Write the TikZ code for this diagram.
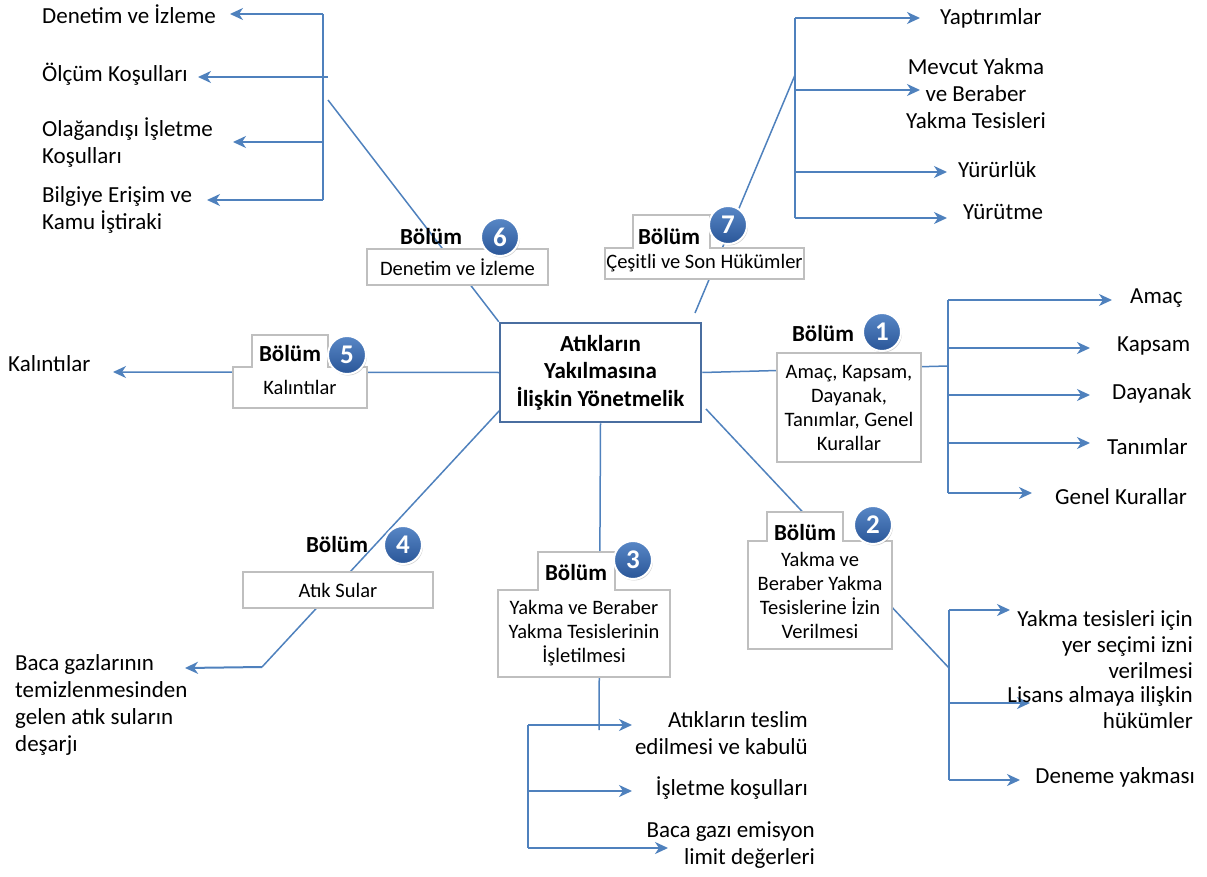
\documentclass[tikz,border=0pt]{standalone}
\usepackage{fontspec}
\setmainfont{Carlito}
\usetikzlibrary{arrows.meta,shadows,backgrounds}

\definecolor{linkblue}{RGB}{79,129,189}
\definecolor{frameblue}{RGB}{74,110,160}
\definecolor{boxgray}{RGB}{191,191,191}
\definecolor{dotlight}{RGB}{88,135,198}
\definecolor{dotdark}{RGB}{42,86,152}

\tikzset{
  spoke/.style={draw=linkblue, line width=1.5pt},
  tree/.style={draw=linkblue, line width=2pt},
  arr/.style={tree, -{Stealth[length=13pt,width=12pt,inset=4pt]}},
  centerbox/.style={draw=frameblue, line width=2.5pt, fill=white, align=center,
    font=\fontsize{23}{27.5}\selectfont\bfseries,
    minimum width=201pt, minimum height=99pt, inner sep=0pt},
  secbox/.style={draw=boxgray, line width=1.2pt, fill=white, align=center,
    font=\fontsize{20.5}{24}\selectfont, inner sep=0pt},
  tabside/.style={draw=boxgray, line width=1.2pt},
  head/.style={font=\fontsize{23}{27}\selectfont\bfseries, inner sep=0pt},
  badge/.style={circle, minimum size=38pt, inner sep=0pt, draw=white, line width=2pt,
    top color=dotlight, bottom color=dotdark, text=white,
    font=\fontsize{27}{27}\selectfont\bfseries,
    drop shadow={shadow xshift=1pt,shadow yshift=-1.5pt,opacity=0.35}},
  leaf/.style={font=\fontsize{23}{27}\selectfont, inner sep=0pt},
}

\begin{document}
\begin{tikzpicture}[x=1pt,y=-1pt]
\useasboundingbox (0,0) rectangle (1207,877);

% ---------- central regulation box ----------
\node[centerbox] (c) at (600.5,372.5) {Atıkların\\Yakılmasına\\İlişkin Yönetmelik};

% ---------- section boxes ----------
\node[secbox, minimum width=199pt, minimum height=31pt] (b7) at (704.5,263.5) {Çeşitli ve Son Hükümler};
\node[secbox, minimum width=181pt, minimum height=36pt] (b6) at (457.5,267) {Denetim ve İzleme};
\node[secbox, minimum width=134pt, minimum height=41pt] (b5) at (300,387.5) {Kalıntılar};
\node[secbox, minimum width=190pt, minimum height=36pt] (b4) at (338,590) {Atık Sular};
\node[secbox, minimum width=172pt, minimum height=87pt] (b3) at (584,633.5) {Yakma ve Beraber\\Yakma Tesislerinin\\İşletilmesi};
\node[secbox, minimum width=144pt, minimum height=108pt] (b2) at (820,595) {Yakma ve\\Beraber Yakma\\Tesislerine İzin\\Verilmesi};
\node[secbox, minimum width=144pt, minimum height=109pt] (b1) at (849,407.5) {Amaç, Kapsam,\\Dayanak,\\Tanımlar, Genel\\Kurallar};

% tabs on top of some section boxes
\fill[white] (633.6,215) rectangle (709.4,249);
\draw[tabside] (633,248) -- (633,215) -- (710,215) -- (710,248);
\fill[white] (252.6,335) rectangle (327.4,368);
\draw[tabside] (252,367) -- (252,335) -- (328,335) -- (328,367);
\fill[white] (538.6,552) rectangle (614.4,591);
\draw[tabside] (538,590) -- (538,552) -- (615,552) -- (615,590);
\fill[white] (767.6,512) rectangle (842.4,542);
\draw[tabside] (767,541) -- (767,512) -- (843,512) -- (843,541);

% headings
\node[head] (h7) at (669,237) {Bölüm};
\node[head] (h6) at (431,237) {Bölüm};
\node[head] (h5) at (290,354) {Bölüm};
\node[head] (h4) at (337,545) {Bölüm};
\node[head] (h3) at (576,573) {Bölüm};
\node[head] (h2) at (805,533) {Bölüm};
\node[head] (h1) at (823,334) {Bölüm};

\node[badge] (n7) at (728,225) {7};
\node[badge] (n6) at (500,237) {6};
\node[badge] (n5) at (347,355) {5};
\node[badge] (n4) at (403,545) {4};
\node[badge] (n3) at (633,560) {3};
\node[badge] (n2) at (873,525) {2};
\node[badge] (n1) at (882,332) {1};

% ---------- topic labels ----------
\node[leaf, anchor=west] (l6a) at (42,14) {Denetim ve İzleme};
\node[leaf, anchor=west] (l6b) at (42,74) {Ölçüm Koşulları};
\node[leaf, anchor=west, align=left] (l6c) at (42,143) {Olağandışı İşletme\\Koşulları};
\node[leaf, anchor=west, align=left] (l6d) at (42,210) {Bilgiye Erişim ve\\Kamu İştiraki};

\node[leaf, anchor=west] (l7a) at (940,18) {Yaptırımlar};
\node[leaf, align=center] (l7b) at (976,94) {Mevcut Yakma\\ve Beraber\\Yakma Tesisleri};
\node[leaf, anchor=west] (l7c) at (958,170) {Yürürlük};
\node[leaf, anchor=west] (l7d) at (963,212) {Yürütme};

\node[leaf, anchor=west] (l1a) at (1130,298) {Amaç};
\node[leaf, anchor=west] (l1b) at (1117,346) {Kapsam};
\node[leaf, anchor=west] (l1c) at (1112,393) {Dayanak};
\node[leaf, anchor=west] (l1d) at (1107,447) {Tanımlar};
\node[leaf, anchor=west] (l1e) at (1055,497) {Genel Kurallar};

\node[leaf, anchor=east, align=right, font=\fontsize{23}{26}\selectfont] (l2a) at (1193,645) {Yakma tesisleri için\\yer seçimi izni\\verilmesi};
\node[leaf, anchor=east, align=right, font=\fontsize{23}{26}\selectfont] (l2b) at (1193,708) {Lisans almaya ilişkin\\hükümler};
\node[leaf, anchor=east] (l2c) at (1195,777) {Deneme yakması};

\node[leaf, anchor=east, align=right] (l3a) at (808,733) {Atıkların teslim\\edilmesi ve kabulü};
\node[leaf, anchor=east] (l3b) at (808,788) {İşletme koşulları};
\node[leaf, anchor=east, align=right] (l3c) at (815,845) {Baca gazı emisyon\\limit değerleri};

\node[leaf, anchor=west, align=left] (l4) at (15,705) {Baca gazlarının\\temizlenmesinden\\gelen atık suların\\deşarjı};
\node[leaf, anchor=west] (l5) at (8,364) {Kalıntılar};

% ---------- junction points and arrow tips ----------
\coordinate (j6) at (328,100);
\coordinate (j7) at (795,75);
\coordinate (g7) at (695,313);
\coordinate (j1) at (948,366);
\coordinate (s2) at (706,409);
\coordinate (j2) at (949,668);
\coordinate (j3) at (599,730);
\coordinate (s4) at (500,410);
\coordinate (j4) at (262,667);

\coordinate (t6a) at (230,14);   \coordinate (t6b) at (198,77);
\coordinate (t6c) at (233,142);  \coordinate (t6d) at (207,200);
\coordinate (t7a) at (920,18);   \coordinate (t7b) at (920,90);
\coordinate (t7c) at (947,172);  \coordinate (t7d) at (947,218);
\coordinate (t1a) at (1112,300); \coordinate (t1b) at (1090,348);
\coordinate (t1c) at (1090,395); \coordinate (t1d) at (1090,443);
\coordinate (t1e) at (1032,493);
\coordinate (t2a) at (1010,610); \coordinate (t2b) at (1030,703);
\coordinate (t2c) at (1020,780);
\coordinate (t3a) at (632,725);  \coordinate (t3b) at (632,791);
\coordinate (t3c) at (668,848);
\coordinate (t4) at (185,668);
\coordinate (t5) at (113,372);

% ---------- connectors, beneath the boxes ----------
\begin{scope}[on background layer]
  % spokes from the central box
  \draw[spoke] (j6) -- (c.north west);
  \draw[spoke] (j7) -- (g7);
  \draw[spoke] (c.east) -- (j1);
  \draw[spoke] (s2) -- (j2);
  \draw[spoke] (c.south) -- (j3);
  \draw[spoke] (s4) -- (j4);
  \draw[arr, line width=1.5pt] (c.west) -- (t5);
  \draw[arr] (j4) -- (t4);

  % section 6
  \draw[tree] (t6a -| 323,0) -- (t6d -| 323,0);
  \draw[arr] (t6a -| 323,0) -- (t6a);
  \draw[arr] (t6b -| j6) -- (t6b);
  \draw[arr] (t6c -| 323,0) -- (t6c);
  \draw[arr] (t6d -| 323,0) -- (t6d);

  % section 7
  \draw[tree] (t7a -| j7) -- (t7d -| j7);
  \draw[arr] (t7a -| j7) -- (t7a);
  \draw[arr] (t7b -| j7) -- (t7b);
  \draw[arr] (t7c -| j7) -- (t7c);
  \draw[arr] (t7d -| j7) -- (t7d);

  % section 1
  \draw[tree] (t1a -| j1) -- (t1e -| j1);
  \draw[arr] (t1a -| j1) -- (t1a);
  \draw[arr] (t1b -| j1) -- (t1b);
  \draw[arr] (t1c -| j1) -- (t1c);
  \draw[arr] (t1d -| j1) -- (t1d);
  \draw[arr] (t1e -| j1) -- (t1e);

  % section 2
  \draw[tree] (t2a -| j2) -- (t2c -| j2);
  \draw[arr] (t2a -| j2) -- (t2a);
  \draw[arr] (t2b -| j2) -- (t2b);
  \draw[arr] (t2c -| j2) -- (t2c);

  % section 3
  \draw[tree] (t3a -| 528,0) -- (t3c -| 528,0);
  \draw[arr] (t3a -| 528,0) -- (t3a);
  \draw[arr] (t3b -| 528,0) -- (t3b);
  \draw[arr] (t3c -| 528,0) -- (t3c);
\end{scope}
\end{tikzpicture}
\end{document}
